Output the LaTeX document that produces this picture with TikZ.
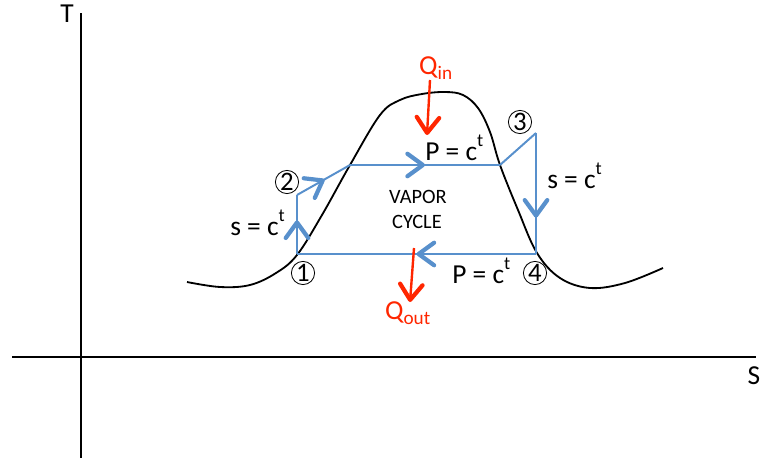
\documentclass[tikz,border=0pt]{standalone}
\usepackage{fontspec}
\setmainfont{Carlito}
\usepackage{xcolor}
\usetikzlibrary{arrows.meta, decorations.markings, positioning}
\definecolor{cycleblue}{RGB}{88,144,204}
\definecolor{heatred}{RGB}{255,38,0}
\newcommand{\const}{c\raisebox{0.5em}{\fontsize{13}{13}\selectfont t}}
\tikzset{
  axisline/.style={line width=1.3pt},
  domeline/.style={line width=1.3pt},
  cycleline/.style={draw=cycleblue, line width=1.4pt},
  midarrow/.style={postaction={decorate}, decoration={markings,
      mark=at position #1 with {\arrow[cycleblue]{Straight Barb[length=11pt,width=16pt,line width=3pt,round]}}}},
  heatarrow/.style={draw=heatred, line width=1.7pt,
      -{Straight Barb[length=11pt,width=16pt,line width=3pt,round]}},
  lbl/.style={font=\fontsize{19.5}{21}\selectfont, inner sep=0pt},
  heatlbl/.style={lbl, text=heatred},
  cyclelbl/.style={font=\fontsize{14.5}{16}\selectfont, inner sep=0pt},
  stateno/.style={draw, circle, line width=0.6pt, minimum size=16.5pt, inner sep=0pt,
      font=\fontsize{19}{19}\selectfont},
}
\begin{document}
\begin{tikzpicture}[x=0.025cm, y=-0.025cm]
    \useasboundingbox (0,0) rectangle (775,461);

    % --- Axes ---
    \coordinate (ttop) at (81,13);
    \coordinate (tbot) at (81,458);
    \coordinate (sleft) at (12,357);
    \coordinate (sright) at (756,357);
    \draw[axisline] (ttop) -- (tbot);
    \draw[axisline] (sleft) -- (sright);
    \node[lbl] (taxis) at (67,14) {T};
    \node[lbl] (saxis) at (754,376) {S};

    % --- Saturation dome ---
    \draw[domeline] plot[smooth, tension=0.6] coordinates {
      (187,282) (220,287) (250,285) (276,273) (297,255) (322,215) (350,165)
      (380,115) (400,100) (422,94) (445,92) (463,95) (478,108) (490,132)
      (500,165) (518,210) (537,253) (560,278) (590,288) (625,283) (663,268)};

    % --- Cycle corners ---
    \coordinate (p1) at (297,254);
    \coordinate (p2) at (297,195);
    \coordinate (sat2) at (350,165);
    \coordinate (sat3) at (500,165);
    \coordinate (p3) at (536,133);
    \coordinate (p4) at (536,254);

    % --- Cycle ---
    \draw[cycleline, midarrow=0.57] (p1) -- (p2);
    \draw[cycleline, midarrow=0.52] (p2) -- (sat2);
    \draw[cycleline, midarrow=0.5] (sat2) -- (sat3);
    \draw[cycleline] (sat3) -- (p3);
    \draw[cycleline, midarrow=0.7] (p3) -- (p4);
    \draw[cycleline, midarrow=0.5] (p4) -- (p1);

    % --- State numbers ---
    \node[stateno] (n1) at (303,273) {1};
    \node[stateno] (n2) at (287,182) {2};
    \node[stateno] (n3) at (520,122) {3};
    \node[stateno] (n4) at (535,273) {4};

    % --- Process labels ---
    \node[lbl, anchor=base west] (s12) at (230,235) {s = \const};
    \node[lbl, anchor=base west] (p23) at (425,160) {P = \const};
    \node[lbl, anchor=base west] (s34) at (547,188) {s = \const};
    \node[lbl, anchor=base west] (p41) at (452,283) {P = \const};
    \node[cyclelbl] (vapor) at (418,197) {VAPOR};
    \node[cyclelbl] (cycle) at (417,222) {CYCLE};

    % --- Heat in / out ---
    \node[heatlbl] (qin) at (436,68) {Q\textsubscript{in}};
    \coordinate (qinstart) at (430,80);
    \coordinate (qinend) at (427,135);
    \draw[heatarrow] (qinstart) -- (qinend);
    \node[heatlbl] (qout) at (408,313) {Q\textsubscript{out}};
    \coordinate (qoutstart) at (414,248);
    \coordinate (qoutend) at (410,302);
    \draw[heatarrow] (qoutstart) -- (qoutend);

\end{tikzpicture}
\end{document}
